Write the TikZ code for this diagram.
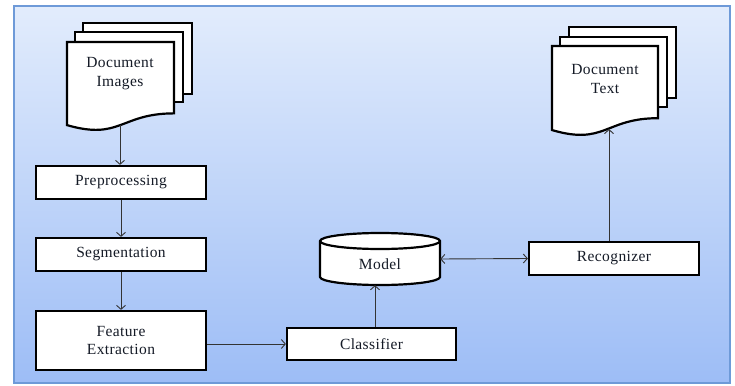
\documentclass[tikz,border=0pt]{standalone}
\usepackage{fontspec}
\setmainfont{Liberation Serif}[LetterSpace=2.5]
\usetikzlibrary{arrows.meta}
\definecolor{bgtop}{HTML}{E2ECFC}
\definecolor{bgbot}{HTML}{9DBDF6}
\definecolor{bgborder}{HTML}{6E9AD8}
\definecolor{txt}{HTML}{141A26}
\newcommand{\docpage}[4]{%
  \path[page] (#1,#2) -- ({#1+#3},#2) -- ({#1+#3},{#2+0.802*#4})
    .. controls ({#1+0.5*#3},{#2+0.802*#4}) and ({#1+0.5*#3},{#2+1.1075*#4}) .. (#1,{#2+0.934*#4}) -- cycle;}
\begin{document}
\begin{tikzpicture}[x=1pt,y=-1pt,
  font=\fontsize{15.5}{18.5}\selectfont, text=txt,
  box/.style={draw, line width=2.2pt, fill=white, minimum width=170pt, minimum height=33pt, inner sep=0pt, align=center},
  page/.style={draw, line width=2.2pt, fill=white, line join=miter},
  arr/.style={draw=black!80, line width=0.9pt, -{Straight Barb[length=4pt,width=9pt]}},
  lbl/.style={align=center, inner sep=0pt}]
\useasboundingbox (0,0) rectangle (735,385);
\path[draw=bgborder, line width=1.2pt, top color=bgtop, bottom color=bgbot] (14,6) rectangle (730,383);
% Document Images
\path[page] (83,23) rectangle (192,94);
\path[page] (75,32) rectangle (183,102);
\docpage{67}{42}{107}{89}
\node[lbl] (docimg) at (120,73.5) {Document\\Images};
\coordinate (docimgbot) at (120,125);
% Document Text
\path[page] (569,27) rectangle (676,98);
\path[page] (560,37) rectangle (667,107);
\docpage{552}{46}{106}{90}
\node[lbl] (doctext) at (605,79) {Document\\Text};
\coordinate (doctextbot) at (609,129);
% boxes
\node[box] (pre) at (121,182.5) {Preprocessing};
\node[box] (seg) at (121,254.5) {Segmentation};
\node[box, minimum height=59pt] (fe) at (121,340.5) {Feature\\Extraction};
\node[box, minimum width=169pt, minimum height=32pt] (cls) at (371.5,344) {Classifier};
\node[box] (rec) at (614,258.5) {Recognizer};
% model cylinder
\node[minimum width=120pt, minimum height=52pt, inner sep=0pt] (model) at (380,259) {};
\path[page] (320,241) -- (320,277) arc[start angle=180, end angle=360, x radius=60pt, y radius=8pt]
  -- (440,241) arc[start angle=0, end angle=180, x radius=60pt, y radius=8pt] -- cycle;
\draw[line width=2.2pt] (320,241) arc[start angle=180, end angle=360, x radius=60pt, y radius=8pt];
\node[lbl] (modellbl) at (380,264) {Model};
% connectors
\draw[arr] (docimgbot) -- (docimgbot |- pre.north);
\draw[arr] (pre.south) -- (seg.north);
\draw[arr] (seg.south) -- (fe.north);
\draw[arr] (fe.east |- cls.west) -- (cls.west);
\draw[arr] ([xshift=-5pt]model.south |- cls.north) -- ([xshift=-5pt]model.south);
\draw[arr, {Straight Barb[length=4pt,width=9pt]}-{Straight Barb[length=4pt,width=9pt]}] (model.east) -- (rec.west);
\draw[arr] ([xshift=-5pt]rec.north) -- ([xshift=-5pt]rec.north |- doctextbot);
\end{tikzpicture}
\end{document}
